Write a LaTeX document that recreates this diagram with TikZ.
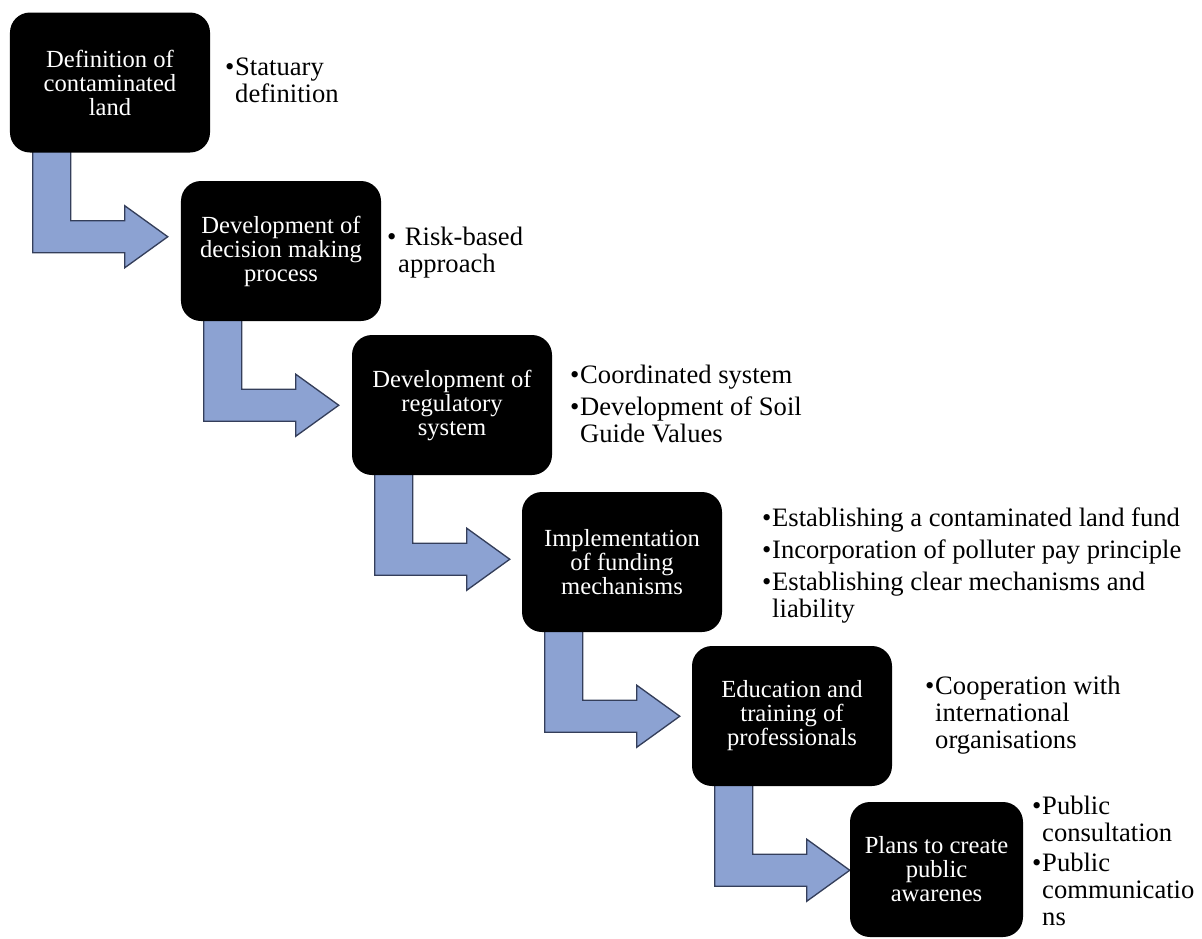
\documentclass[tikz,border=0pt]{standalone}
\usepackage{fontspec}
\setmainfont{Liberation Serif}
\usetikzlibrary{backgrounds,calc}
\definecolor{arrowfill}{RGB}{140,162,210}
\definecolor{arrowline}{RGB}{52,62,90}
\tikzset{
  stage/.style={fill=black, text=white, rounded corners=0.6cm, align=center,
    minimum width=6cm, minimum height=4.2cm, inner sep=2pt,
    font=\fontsize{21}{20.5}\selectfont},
  notes/.style={anchor=base west, align=left, inner sep=0pt,
    font=\fontsize{22.7}{23}\selectfont},
  bentarrow/.style={fill=arrowfill, draw=arrowline, line width=0.04cm, line join=miter}
}
\newcommand{\blt}{\makebox[0.3cm][l]{\textbullet}}
\newcommand{\ind}{\hspace*{0.3cm}}

\begin{document}
\begin{tikzpicture}[x=0.03cm, y=-0.03cm]
  \useasboundingbox (0,0) rectangle (1202,938);
  % stages
  \node[stage] (def) at (110,82.5) {Definition of\\contaminated\\land};
  \node[stage] (dec) at (281,251) {Development of\\decision making\\process};
  \node[stage] (reg) at (452,405) {Development of\\regulatory\\system};
  \node[stage] (fund) at (622,562) {Implementation\\of funding\\mechanisms};
  \node[stage] (edu) at (792,716) {Education and\\training of\\professionals};
  \node[stage, minimum width=5.19cm, minimum height=4.05cm] (aware) at (936.5,869.5) {Plans to create\\public\\awarenes};

  % bent arrows between stages
  \begin{scope}[on background layer]
    \foreach \a in {def,dec,reg,fund,edu}{
      \draw[bentarrow] ($(\a.south west)+(23,-10)$) -- ++(0,110) -- ++(92,0) -- ++(0,15)
        -- ++(43,-31) -- ++(-43,-31) -- ++(0,15) -- ++(-54,0) -- ++(0,-78) -- cycle;
    }
  \end{scope}

  % notes (placed at the baseline of their last line)
  \node[notes] (defnote) at (225,102) {\blt Statuary\\\ind definition};
  \node[notes] (decnote) at (387,272) {\makebox[0.33cm][l]{\textbullet} Risk-based\\\hspace*{0.33cm}approach};
  \node[notes] (regnote) at (570,442) {\blt Coordinated system\\[0.15cm]\blt Development of Soil\\\ind Guide Values};
  \node[notes] (fundnote) at (762,617) {\blt Establishing a contaminated land fund\\[0.15cm]\blt Incorporation of polluter pay principle\\[0.15cm]\blt Establishing clear mechanisms and\\\ind liability};
  \node[notes] (edunote) at (925,748) {\blt Cooperation with\\\ind international\\\ind organisations};
  \node[notes] (awarenote) at (1032,925) {\blt Public\\\ind consultation\\[0.09cm]\blt Public\\\ind communicatio\\\ind ns};
\end{tikzpicture}
\end{document}
